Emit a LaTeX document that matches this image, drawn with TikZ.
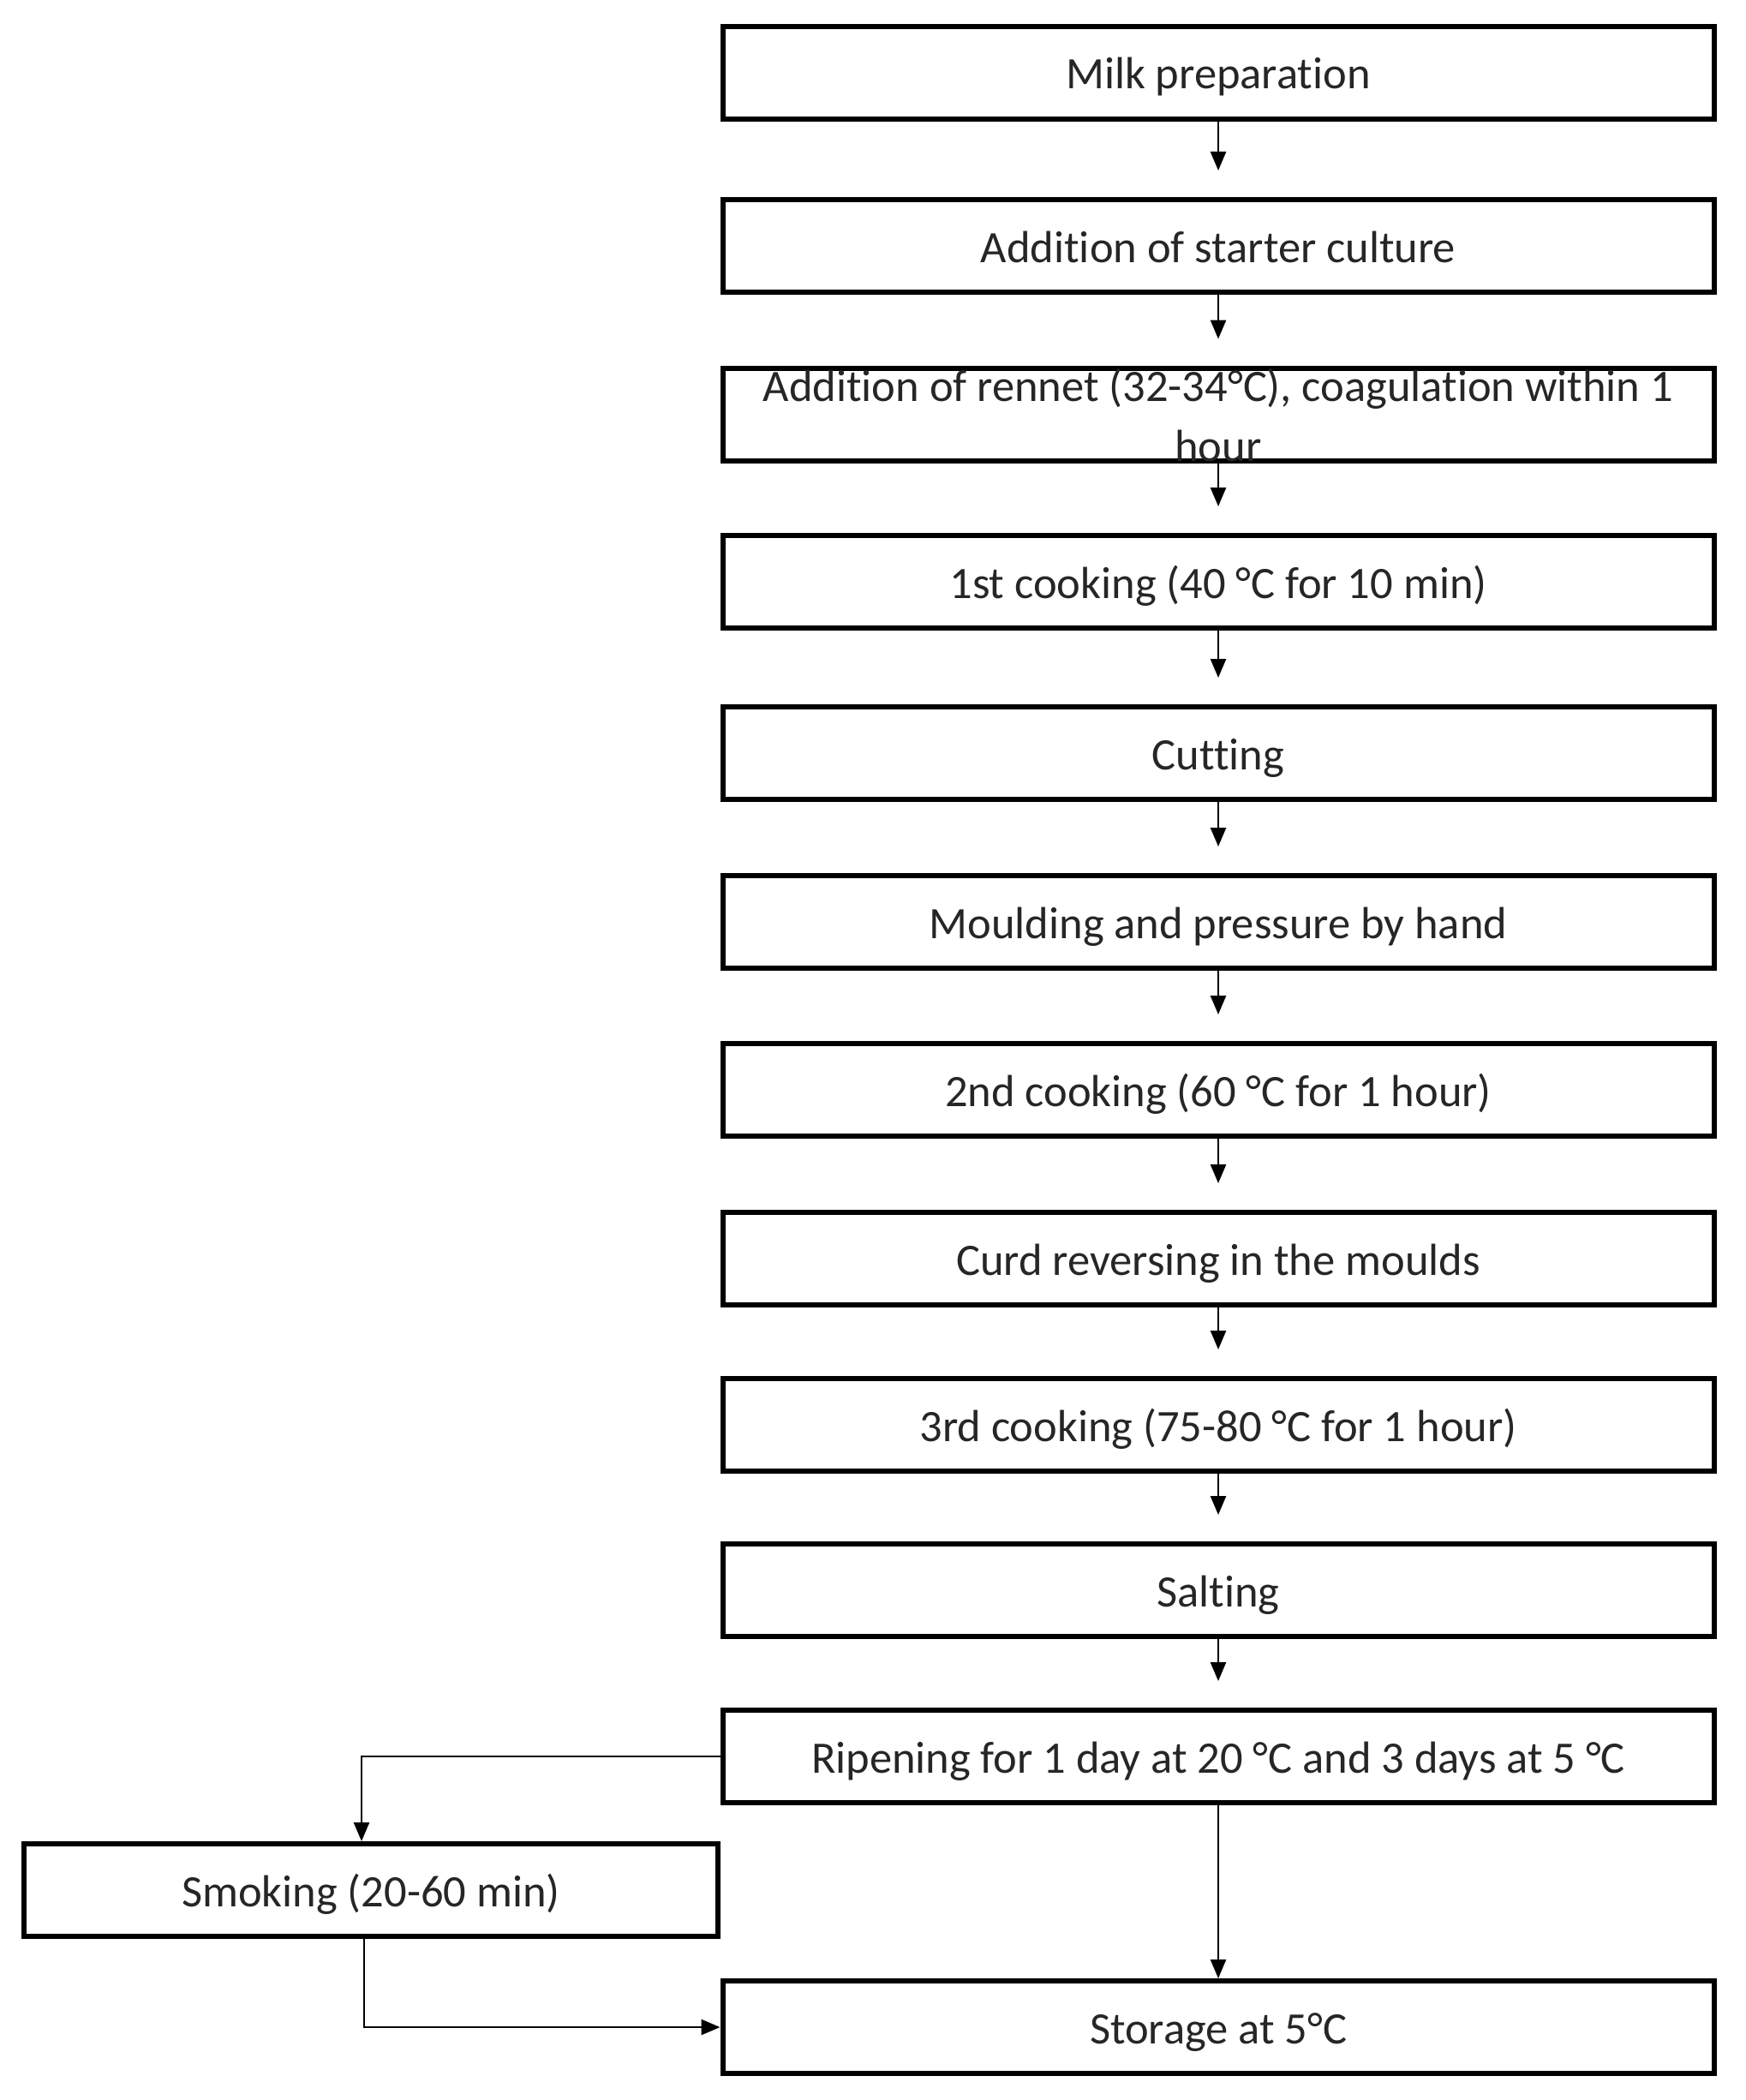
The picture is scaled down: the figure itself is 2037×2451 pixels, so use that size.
\documentclass[tikz,border=0pt]{standalone}
\usepackage{fontspec}
\setmainfont{Carlito}[Ligatures=NoCommon]
\usetikzlibrary{arrows.meta}
\begin{document}
\begin{tikzpicture}[x=1pt,y=-1pt,
  box/.style={draw=black,line width=6pt,minimum width=1157pt,minimum height=108pt,inner sep=0pt,
    font=\fontsize{52.5}{70}\selectfont,text=black!85,align=center},
  one/.style={box,text height=44pt,text depth=6pt},
  sbox/.style={one,minimum width=810pt},
  arr/.style={draw=black,line width=2.5pt,-{Triangle[length=22pt,width=18pt]}}]
\useasboundingbox (0,0) rectangle (2037,2451);
\node[one] (b1) at (1422,85) {Milk preparation};
\node[one] (b2) at (1422,287) {Addition of starter culture};
\node[box] (b3) at (1422,484) {Addition of rennet (32-34°C), coagulation within 1\\hour};
\node[one] (b4) at (1422,679) {1st cooking (40 °C for 10 min)};
\node[one] (b5) at (1422,879) {Cutting};
\node[one] (b6) at (1422,1076) {Moulding and pressure by hand};
\node[one] (b7) at (1422,1272) {2nd cooking (60 °C for 1 hour)};
\node[one] (b8) at (1422,1469) {Curd reversing in the moulds};
\node[one] (b9) at (1422,1663) {3rd cooking (75-80 °C for 1 hour)};
\node[one] (b10) at (1422,1856) {Salting};
\node[one] (b11) at (1422,2050) {Ripening for 1 day at 20 °C and 3 days at 5 °C};
\node[sbox] (smk) at (433,2206) {Smoking (20-60 min)};
\node[one] (sto) at (1422,2366) {Storage at 5°C};
\foreach \a/\b in {b1/b2,b2/b3,b3/b4,b4/b5,b5/b6,b6/b7,b7/b8,b8/b9,b9/b10,b10/b11}
  \draw[arr,shorten >=31pt] (\a) -- (\b);
\draw[arr] (b11) -- (sto);
\draw[arr] (b11.west) -| ([xshift=-11pt]smk.north);
\draw[arr] ([xshift=-8pt]smk.south) |- (sto.west);
\end{tikzpicture}
\end{document}
